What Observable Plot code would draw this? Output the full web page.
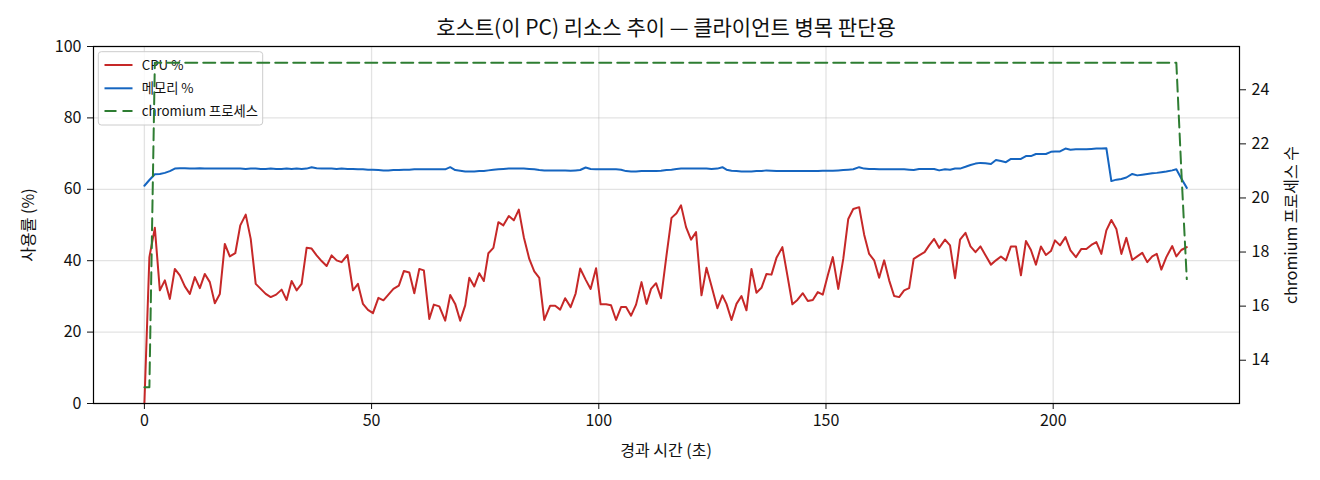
<!DOCTYPE html>
<html><head><meta charset="utf-8">
<script src="https://cdn.jsdelivr.net/npm/d3@7"></script>
<script src="https://cdn.jsdelivr.net/npm/@observablehq/plot@0.6"></script>
<style>
html,body{margin:0;padding:0;background:#fff;}
#chart{width:1320px;height:480px;}
</style></head><body><div id="chart"></div>
<script>
const times = [
0.0,1.1,2.3,3.4,4.5,5.6,6.7,7.8,8.9,10.0,
11.1,12.2,13.3,14.4,15.5,16.6,17.7,18.8,20.0,21.1,
22.3,23.4,24.5,25.6,26.7,27.8,29.0,30.2,31.3,32.4,
33.5,34.6,35.7,36.8,37.9,39.0,40.1,41.2,42.3,43.4,
44.7,45.9,47.0,48.1,49.2,50.3,51.5,52.6,53.7,54.8,
56.0,57.1,58.3,59.4,60.5,61.5,62.7,63.7,64.9,66.2,
67.3,68.4,69.5,70.6,71.5,72.6,73.7,74.7,75.7,76.8,
77.9,79.0,80.2,81.3,82.4,83.5,84.7,85.8,86.9,88.0,
89.3,90.4,91.5,92.6,93.8,94.9,95.9,97.1,98.2,99.4,
100.4,101.6,102.7,103.8,104.9,106.0,107.1,108.2,109.4,110.5,
111.5,112.6,113.7,114.9,116.0,117.1,118.1,119.2,120.3,121.4,
122.6,123.7,124.8,126.1,127.2,128.1,129.2,130.3,131.4,132.5,
133.6,134.7,135.8,136.9,138.0,139.1,140.4,141.5,142.6,143.7,
144.9,146.0,147.1,148.2,149.3,150.4,151.5,152.7,153.8,154.9,
156.0,157.3,158.4,159.5,160.6,161.7,162.8,163.9,165.0,166.1,
167.2,168.3,169.3,170.5,171.7,172.7,173.8,174.9,176.2,177.3,
178.4,179.5,180.7,181.8,182.9,184.0,185.1,186.3,187.4,188.5,
189.6,190.7,191.8,192.9,194.0,195.1,196.2,197.3,198.4,199.5,
200.4,201.5,202.7,203.8,205.0,206.2,207.3,208.4,209.5,210.6,
211.7,212.8,213.9,215.0,216.1,217.4,218.5,219.6,220.7,221.8,
222.8,223.8,224.9,226.2,227.1,228.2,229.4];

const cpu = [
0,41.0,49.2,31.7,34.5,29.3,37.7,35.9,32.8,30.7,
35.4,32.3,36.3,34.0,28.1,30.7,44.7,41.2,42.1,49.9,
52.9,46.1,33.5,32.1,30.7,29.8,30.5,31.9,29.0,34.3,
31.7,33.5,43.6,43.4,41.5,39.9,38.5,41.5,40.1,39.6,
41.6,31.7,33.5,27.9,26.2,25.3,29.6,28.9,30.5,32.1,
33.0,37.1,36.7,30.9,37.7,37.3,23.7,27.7,27.2,23.2,
30.4,27.9,23.2,27.5,35.2,32.8,36.5,34.3,42.1,43.6,
50.8,49.9,52.5,51.3,54.3,46.6,40.5,37.0,35.2,23.4,
27.4,27.4,26.3,29.5,27.0,30.8,37.8,34.7,32.1,37.9,
27.8,27.8,27.5,23.4,27.0,27.0,24.6,27.7,34.0,27.9,
32.1,33.7,29.5,41.5,52.0,53.3,55.5,49.4,45.9,48.0,
30.3,38.0,32.9,26.7,30.3,27.9,23.4,27.9,30.1,26.1,
37.7,31.0,32.4,36.3,36.1,40.8,43.8,35.9,27.8,29.0,
30.9,28.7,29.0,31.2,30.5,35.9,41.0,32.1,40.5,51.7,
54.5,55.0,47.3,41.9,40.1,35.2,40.1,34.5,30.1,29.8,
31.7,32.3,40.5,41.5,42.4,44.3,46.1,43.6,45.9,44.3,
35.1,45.9,47.8,44.0,42.4,44.0,41.5,38.9,40.1,41.2,
40.1,44.0,44.0,35.9,45.5,43.0,38.9,44.0,41.6,42.7,
45.7,44.3,46.6,42.9,41.0,43.3,43.3,44.4,45.2,41.9,
48.5,51.4,48.9,41.9,46.4,40.2,41.2,42.2,39.6,41.2,
41.9,37.5,41.0,44.1,41.2,43.0,43.8];

const mem = [
61.0,62.6,64.2,64.3,64.6,65.1,65.8,65.9,65.9,65.8,
65.8,65.9,65.8,65.8,65.8,65.8,65.8,65.8,65.8,65.8,
65.7,65.8,65.8,65.7,65.7,65.8,65.7,65.7,65.8,65.7,
65.8,65.7,65.8,66.2,65.9,65.8,65.8,65.8,65.7,65.8,
65.7,65.7,65.6,65.6,65.5,65.5,65.4,65.3,65.3,65.4,
65.4,65.5,65.5,65.6,65.6,65.6,65.6,65.6,65.6,65.6,
66.2,65.4,65.2,65.0,65.0,65.0,65.1,65.1,65.3,65.5,
65.6,65.7,65.8,65.8,65.8,65.8,65.7,65.6,65.4,65.3,
65.3,65.3,65.3,65.3,65.2,65.3,65.4,66.1,65.7,65.6,
65.6,65.6,65.6,65.6,65.5,65.1,65.0,65.0,65.1,65.1,
65.1,65.1,65.2,65.4,65.5,65.7,65.8,65.8,65.8,65.8,
65.8,65.8,65.7,65.8,66.2,65.5,65.2,65.1,65.0,65.0,
65.0,65.1,65.1,65.3,65.2,65.1,65.1,65.1,65.1,65.1,
65.1,65.1,65.1,65.1,65.2,65.2,65.2,65.3,65.4,65.5,
65.6,66.2,65.8,65.7,65.7,65.6,65.6,65.6,65.6,65.6,
65.6,65.5,65.4,65.7,65.7,65.7,65.7,65.3,65.6,65.5,
65.8,65.8,66.3,66.8,67.2,67.4,67.3,67.1,68.2,67.9,
67.6,68.5,68.5,68.5,69.3,69.3,69.9,69.9,69.9,70.5,
70.6,70.6,71.4,71.1,71.2,71.2,71.2,71.3,71.4,71.4,
71.5,62.3,62.7,62.9,63.3,64.3,63.9,64.1,64.3,64.5,
64.6,64.8,65.0,65.3,65.6,63.0,60.4];

const chromT = [0.0, 1.1, 2.3, 227.1, 228.2, 229.4];
const chromV = [13, 13, 25, 25, 21, 17];

const xTicks = [0, 50, 100, 150, 200];
const yTicks = [0, 20, 40, 60, 80, 100];
const rightTicks = [14, 16, 18, 20, 22, 24];
const rightDomain = [12.4, 25.6];

const title = "호스트(이 PC) 리소스 추이 — 클라이언트 병목 판단용";
const xLabel = "경과 시간 (초)";
const yLabel = "사용률 (%)";
const yLabelRight = "chromium 프로세스 수";
const seriesNames = ["CPU %", "메모리 %", "chromium 프로세스"];
const colors = ["#c62828", "#1565c0", "#2e7d32"];
const dash = "12,6";

const toLeft = v => (v - rightDomain[0]) / (rightDomain[1] - rightDomain[0]) * 100;
const fromLeft = y => rightDomain[0] + y / 100 * (rightDomain[1] - rightDomain[0]);

const rows = times.map((t, i) => ({t, cpu: cpu[i], mem: mem[i]}));
const chromRows = chromT.map((t, i) => ({t, v: chromV[i]}));

const font = '"Noto Sans CJK KR", "Noto Sans", sans-serif';
const tickFont = "16px";

const chart = Plot.plot({
  width: 1320, height: 480,
  marginLeft: 93, marginRight: 81, marginTop: 46, marginBottom: 77,
  style: {fontFamily: font, fontSize: tickFont, color: "#111", background: "white", overflow: "visible"},
  x: {domain: [-11.2, 241]},
  y: {domain: [0, 100]},
  marks: [
    Plot.gridX({ticks: xTicks, stroke: "#b0b0b0", strokeOpacity: 0.35, strokeWidth: 1.3}),
    Plot.gridY({ticks: yTicks, stroke: "#b0b0b0", strokeOpacity: 0.35, strokeWidth: 1.3}),
    Plot.line(rows, {x: "t", y: "cpu", stroke: colors[0], strokeWidth: 2}),
    Plot.line(rows, {x: "t", y: "mem", stroke: colors[1], strokeWidth: 2}),
    Plot.axisX({ticks: xTicks, tickSize: 6, tickPadding: 5, fontSize: tickFont, label: null, tickFormat: d => String(d)}),
    Plot.axisY({ticks: yTicks, tickSize: 6, tickPadding: 6, fontSize: tickFont, label: null, tickFormat: d => String(d)}),
    Plot.axisY({anchor: "right", ticks: rightTicks.map(toLeft), tickSize: 6, tickPadding: 6, fontSize: tickFont, label: null,
      tickFormat: d => String(Math.round(fromLeft(d)))}),
    Plot.frame({stroke: "black", strokeWidth: 1.2}),
    Plot.line(chromRows, {x: "t", y: d => toLeft(d.v), stroke: colors[2], strokeWidth: 2, strokeDasharray: dash})
  ]
});

document.getElementById("chart").appendChild(chart);
const svg = d3.select(chart);
const lines = chart.querySelectorAll('g[aria-label="line"]');
const greenG = lines[lines.length - 1];

// legend (below the twin-axis line, like matplotlib)
const lg = svg.insert("g", () => greenG).attr("font-family", font).attr("font-size", "13.3px").attr("text-anchor", "start");
lg.append("rect").attr("x", 98.3).attr("y", 51.7).attr("width", 164.4).attr("height", 73.3)
  .attr("rx", 3).attr("fill", "white").attr("fill-opacity", 0.8).attr("stroke", "#cccccc").attr("stroke-width", 1);
const legY = [65, 88.3, 111];
seriesNames.forEach((name, i) => {
  const l = lg.append("line").attr("x1", 104.5).attr("x2", 132.5).attr("y1", legY[i]).attr("y2", legY[i])
    .attr("stroke", colors[i]).attr("stroke-width", 2);
  if (i === 2) l.attr("stroke-dasharray", dash);
  lg.append("text").attr("x", 141.7).attr("y", legY[i]).attr("dy", "0.35em").attr("text-anchor", "start")
    .attr("fill", "#111").text(name);
});

// title and axis labels
svg.append("text").attr("x", 666).attr("y", 28).attr("dy", "0.35em").attr("text-anchor", "middle")
  .attr("font-family", font).attr("font-size", "21px").attr("fill", "#111").text(title);
svg.append("text").attr("x", 666).attr("y", 450).attr("dy", "0.35em").attr("text-anchor", "middle")
  .attr("font-family", font).attr("font-size", "16px").attr("fill", "#111").text(xLabel);
svg.append("text").attr("transform", "translate(28,225) rotate(-90)").attr("dy", "0.35em").attr("text-anchor", "middle")
  .attr("font-family", font).attr("font-size", "16px").attr("fill", "#111").text(yLabel);
svg.append("text").attr("transform", "translate(1291,225) rotate(-90)").attr("dy", "0.35em").attr("text-anchor", "middle")
  .attr("font-family", font).attr("font-size", "16px").attr("fill", "#111").text(yLabelRight);
</script></body></html>
